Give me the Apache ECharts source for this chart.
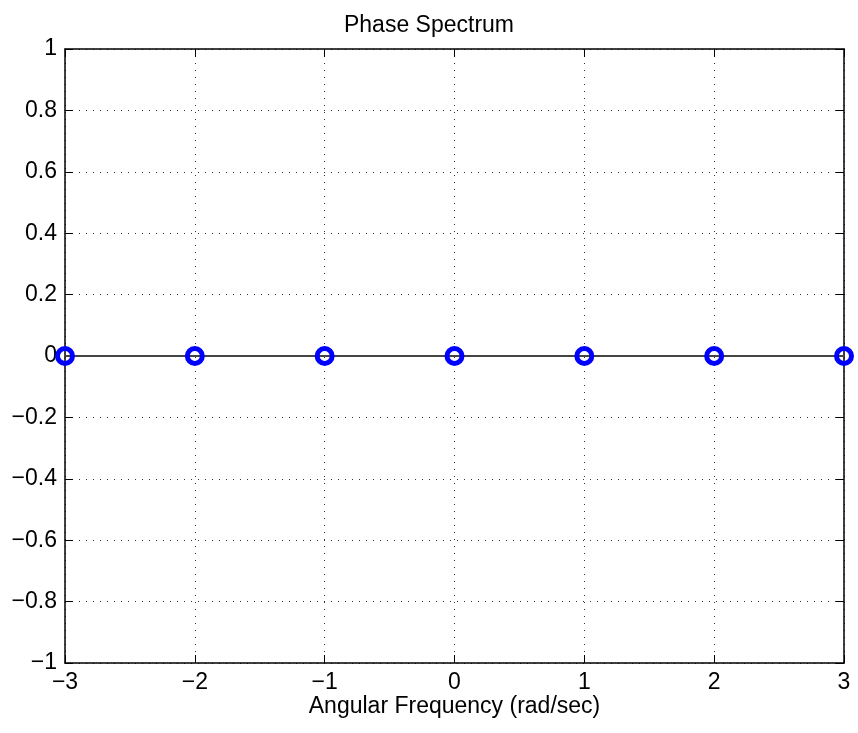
<!DOCTYPE html>
<html><head><meta charset="utf-8">
<script src="https://cdn.jsdelivr.net/npm/echarts@6/dist/echarts.min.js"></script>
<style>html,body{margin:0;padding:0;background:#fff}#c{width:858px;height:733px}</style>
</head><body><div id="c"></div>
<script>
const frequencies = [-3, -2, -1, 0, 1, 2, 3];
const phases = [0, 0, 0, 0, 0, 0, 0];
const titleText = 'Phase Spectrum';
const xLabel = 'Angular Frequency (rad/sec)';

const fmt = v => { const s = (Math.round(v*10)/10).toString(); return s.replace('-', '\u2212'); };
const font = 'Liberation Sans, Arial, Helvetica, sans-serif';
const chart = echarts.init(document.getElementById('c'));
const gridLine = {show:true, lineStyle:{color:'#333', type:[1,6], width:1}};
const tick = {show:true, inside:true, length:8, lineStyle:{color:'#000', width:1}};
const axLine = {show:true, onZero:false, lineStyle:{color:'#000', width:1.5}};
chart.setOption({
  animation:false,
  title:{text:titleText, left:'center', top:9, textStyle:{fontFamily:font, fontSize:23, fontWeight:'normal', color:'#000'}},
  grid:{left:65, right:14, top:49, bottom:70},
  xAxis:[{type:'value', min:-3, max:3, interval:1, name:xLabel, nameLocation:'middle', nameGap:32, nameMoveOverlap:false,
    nameTextStyle:{fontFamily:font, fontSize:23, color:'#000'},
    axisLine:axLine, axisTick:tick,
    axisLabel:{formatter:fmt, fontFamily:font, fontSize:23, color:'#000', margin:8}, splitLine:gridLine},
    {type:'value', position:'top', min:-3, max:3, interval:1, axisLine:axLine, axisTick:tick, axisLabel:{show:false}, splitLine:{show:false}}],
  yAxis:[{type:'value', min:-1, max:1, interval:0.2,
    axisLine:axLine, axisTick:tick,
    axisLabel:{formatter:fmt, fontFamily:font, fontSize:23, color:'#000', margin:8}, splitLine:gridLine},
    {type:'value', position:'right', min:-1, max:1, interval:0.2, axisLine:axLine, axisTick:tick, axisLabel:{show:false}, splitLine:{show:false}}],
  series:[{type:'line', data:frequencies.map((f,i)=>[f, phases[i]]), clip:false,
    lineStyle:{color:'#444', width:2}, symbol:'circle', symbolSize:15,
    itemStyle:{color:'rgba(255,255,255,0)', borderColor:'#0000ff', borderWidth:5}, z:5}]
});
</script></body></html>
